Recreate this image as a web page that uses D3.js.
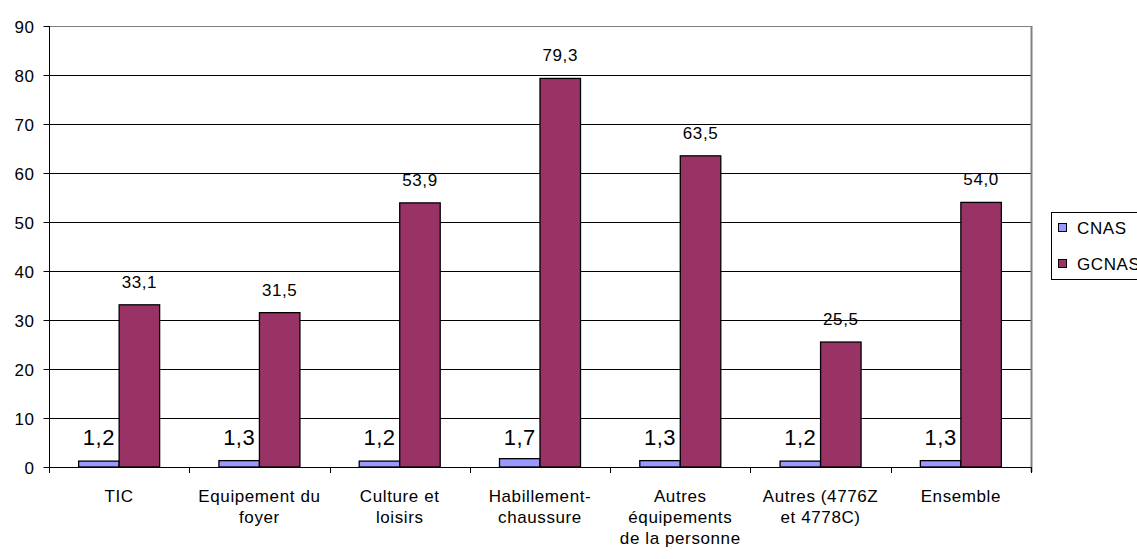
<!DOCTYPE html>
<html><head><meta charset="utf-8">
<script src="https://cdn.jsdelivr.net/npm/d3@7"></script>
<style>body{margin:0;background:#fff}svg{display:block;font-family:"Liberation Sans",Arial,sans-serif}</style>
</head><body><svg id="c" width="1137" height="559"></svg>
<script>
const categories = [["TIC"],["Equipement du","foyer"],["Culture et","loisirs"],["Habillement-","chaussure"],["Autres","équipements","de la personne"],["Autres (4776Z","et 4778C)"],["Ensemble"]];
const cnas = [1.2,1.3,1.2,1.7,1.3,1.2,1.3];
const gcnas = [33.1,31.5,53.9,79.3,63.5,25.5,54.0];
const seriesNames = ["CNAS","GCNAS"];
const yTicks = [0,10,20,30,40,50,60,70,80,90];

const svg = d3.select("#c");
const L=49,R=1031,T=26,B=467;
const x = d3.scaleBand().domain(d3.range(categories.length)).range([L,R]).paddingInner(0).paddingOuter(0);
const y = d3.scaleLinear().domain([0,90]).range([B,T]);
const bw = 40.5;
const fmt = v => v.toFixed(1).replace(".",",");
const FS = 17, LS = "0.6px";

// gridlines
svg.append("g").selectAll("line").data(yTicks.filter(d=>d>0)).join("line")
  .attr("x1",L).attr("x2",R).attr("y1",d=>y(d)+0.5).attr("y2",d=>y(d)+0.5)
  .attr("stroke",d=>d===90?"#808080":"#000").attr("stroke-width",1);
// right border
svg.append("line").attr("x1",R+0.5).attr("x2",R+0.5).attr("y1",T).attr("y2",B+5).attr("stroke","#808080").attr("stroke-width",2);

// y axis
const ya = svg.append("g").attr("transform",`translate(${L+0.5},0)`)
  .call(d3.axisLeft(y).tickValues(yTicks).tickSize(6).tickPadding(9).tickFormat(d=>d));
ya.select(".domain").remove();
ya.selectAll("line").attr("stroke","#000");
ya.selectAll("text").attr("font-size",FS).attr("fill","#000").attr("font-family","Liberation Sans, Arial, sans-serif").attr("letter-spacing",LS).attr("dy","0.36em");
svg.append("line").attr("x1",L+0.5).attr("x2",L+0.5).attr("y1",T).attr("y2",B+5).attr("stroke","#000");

// bars
const g = svg.append("g");
categories.forEach((c,i)=>{
  const cx = x(i)+x.bandwidth()/2;
  g.append("rect").attr("x",cx-bw).attr("width",bw).attr("y",y(cnas[i])).attr("height",B-y(cnas[i]))
    .attr("fill","#9999FF").attr("stroke","#000").attr("stroke-width",1.3);
  g.append("rect").attr("x",cx).attr("width",bw).attr("y",y(gcnas[i])).attr("height",B-y(gcnas[i]))
    .attr("fill","#993366").attr("stroke","#000").attr("stroke-width",1.3);
  g.append("text").attr("x",cx-bw/2).attr("y",445).attr("text-anchor","middle").attr("font-size",22).attr("letter-spacing","0.5px").text(fmt(cnas[i]));
  g.append("text").attr("x",cx+bw/2).attr("y",y(gcnas[i])-17).attr("text-anchor","middle").attr("font-size",FS).attr("letter-spacing",LS).text(fmt(gcnas[i]));
});

// x axis
svg.append("line").attr("x1",L).attr("x2",R).attr("y1",B+0.5).attr("y2",B+0.5).attr("stroke","#000");
svg.append("g").selectAll("line").data(d3.range(categories.length+1)).join("line")
  .attr("x1",d=>Math.round(L+d*x.bandwidth())+0.5).attr("x2",d=>Math.round(L+d*x.bandwidth())+0.5)
  .attr("y1",B).attr("y2",B+6).attr("stroke","#000");
const xl = svg.append("g");
categories.forEach((c,i)=>{
  const t = xl.append("text").attr("text-anchor","middle").attr("font-size",FS).attr("letter-spacing",LS);
  c.forEach((line,j)=>t.append("tspan").attr("x",x(i)+x.bandwidth()/2).attr("y",502+j*21).text(line));
});

// legend
svg.append("rect").attr("x",1051.5).attr("y",212.5).attr("width",100).attr("height",67).attr("fill","#fff").attr("stroke","#000");
const colors=["#9999FF","#993366"];
seriesNames.forEach((n,i)=>{
  const yy = 228 + i*36;
  svg.append("rect").attr("x",1058.5).attr("y",yy-4.5).attr("width",8).attr("height",8).attr("fill",colors[i]).attr("stroke","#000");
  svg.append("text").attr("x",1077).attr("y",yy+6).attr("font-size",FS).attr("letter-spacing",LS).text(n);
});
</script></body></html>
